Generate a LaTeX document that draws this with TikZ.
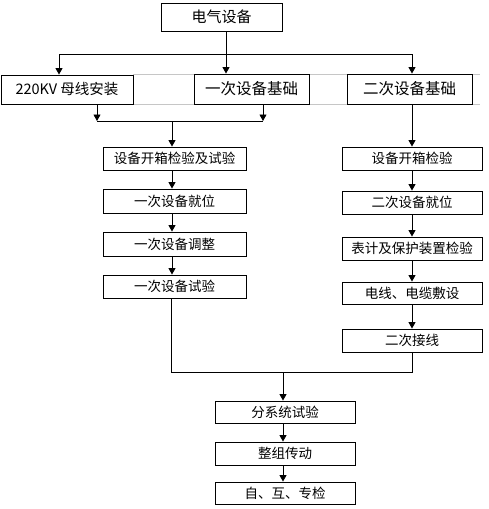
\documentclass[tikz,border=0pt]{standalone}
\usepackage{fontspec}
\setmainfont{Noto Sans CJK SC}
\usetikzlibrary{arrows.meta}
\begin{document}
\begin{tikzpicture}[x=1pt,y=-1pt,
  box/.style={draw,line width=0.9pt,inner sep=0pt,font=\fontsize{13.5}{14}\selectfont},
  arr/.style={line width=0.9pt,-{Triangle[length=6.5pt,width=7pt]}},
  ln/.style={line width=0.9pt}]
\useasboundingbox[fill=white] (0,0) rectangle (489,509);
% faint table lines
\draw[gray!45,line width=0.8pt] (133,74.5) -- (480,74.5) (133,104) -- (480,104);
% top
\node[box,minimum width=121pt,minimum height=28pt,font=\fontsize{15}{16}\selectfont] (top) at (221.5,17) {电气设备};
\node[box,fill=white,minimum width=132pt,minimum height=29pt,font=\fontsize{14.5}{16}\selectfont] (ba) at (67,89.5) {\raisebox{2pt}{220KV 母线安装}};
\node[box,fill=white,minimum width=115pt,minimum height=30pt,font=\fontsize{15.5}{16}\selectfont] (bb) at (251.5,89) {一次设备基础};
\node[box,fill=white,minimum width=125pt,minimum height=30pt,font=\fontsize{15.5}{16}\selectfont] (bc) at (409.5,89) {二次设备基础};
% left column
\node[box,minimum width=143pt,minimum height=23pt] (l1) at (174.5,158.5) {设备开箱检验及试验};
\node[box,minimum width=143pt,minimum height=24pt] (l2) at (174.5,201) {一次设备就位};
\node[box,minimum width=143pt,minimum height=24pt] (l3) at (174.5,244) {一次设备调整};
\node[box,minimum width=143pt,minimum height=23pt] (l4) at (174.5,286.5) {一次设备试验};
% right column
\node[box,minimum width=140pt,minimum height=23pt] (r1) at (412,158.5) {设备开箱检验};
\node[box,minimum width=140pt,minimum height=23pt] (r2) at (412,202.5) {二次设备就位};
\node[box,minimum width=140pt,minimum height=23pt] (r3) at (412,248.5) {表计及保护装置检验};
\node[box,minimum width=140pt,minimum height=22pt] (r4) at (412,293) {电线、电缆敷设};
\node[box,minimum width=140pt,minimum height=23pt] (r5) at (412,340.5) {二次接线};
% bottom
\node[box,minimum width=140pt,minimum height=22pt] (m1) at (285,412) {分系统试验};
\node[box,minimum width=140pt,minimum height=23pt] (m2) at (285,453.5) {整组传动};
\node[box,minimum width=140pt,minimum height=22pt] (m3) at (285,493) {自、互、专检};
% top distribution
\coordinate (t0) at (226,54);
\coordinate (tl) at (59,54);
\coordinate (tr) at (412,54);
\draw[ln] (top.south -| t0) -- (t0);
\draw[ln] (tl) -- (tr);
\draw[arr] (tl) -- (tl |- ba.north);
\draw[arr] (t0) -- (t0 |- bb.north);
\draw[arr] (tr) -- (tr |- bc.north);
% merge of first two
\coordinate (ma) at (97,121);
\coordinate (mb) at (263,121);
\coordinate (mc) at (172,121);
\draw[arr] (ma |- ba.south) -- (ma);
\draw[arr] (mb |- bb.south) -- (mb);
\draw[ln] (ma) -- (mb);
\draw[arr] (mc) -- (mc |- l1.north);
\draw[arr] (bc.south -| r1.north) -- (r1.north);
% chains
\draw[arr] (l1.south -| mc) -- (l2.north -| mc);
\draw[arr] (l2.south -| mc) -- (l3.north -| mc);
\draw[arr] (l3.south -| mc) -- (l4.north -| mc);
\draw[arr] (r1.south) -- (r2.north);
\draw[arr] (r2.south) -- (r3.north);
\draw[arr] (r3.south) -- (r4.north);
\draw[arr] (r4.south) -- (r5.north);
% join
\coordinate (jl) at (171,372);
\coordinate (jr) at (412,372);
\coordinate (jm) at (283,372);
\draw[ln] (l4.south -| jl) -- (jl) -- (jr) -- (r5.south);
\draw[arr] (jm) -- (jm |- m1.north);
\draw[arr] (m1.south -| jm) -- (m2.north -| jm);
\draw[arr] (m2.south -| jm) -- (m3.north -| jm);
\end{tikzpicture}
\end{document}
